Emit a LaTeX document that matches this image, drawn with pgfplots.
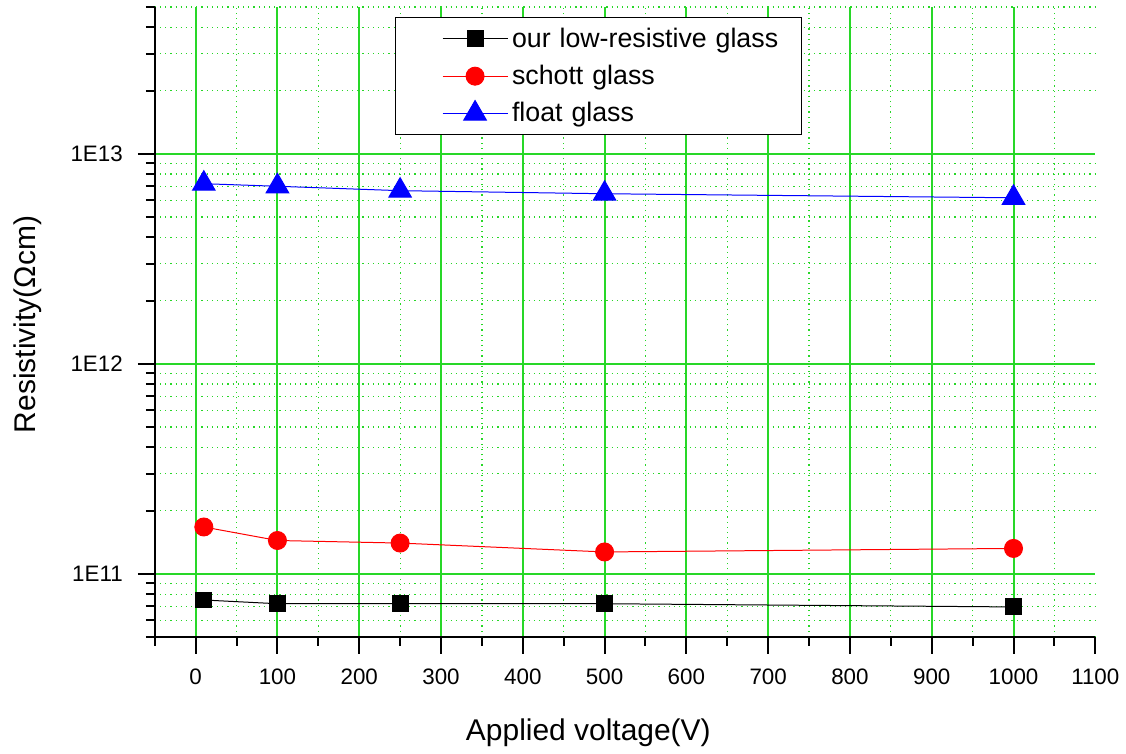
\documentclass[border=0pt]{standalone}
\usepackage{fontspec}
\setmainfont{Liberation Sans}
\usepackage{pgfplots}
\pgfplotsset{compat=1.18}
\definecolor{gridgreen}{RGB}{40,215,40}
\begin{document}
\begin{tikzpicture}
\begin{axis}[
  scale only axis,
  width=471pt, height=315.5pt,
  ymode=log,
  xmin=-50, xmax=1100,
  ymin=5e10, ymax=5e13,
  axis lines*=left,
  axis line style={line width=1pt, black},
  xtick={0,100,...,1000},
  extra x ticks={1100},
  extra x tick style={grid=none},
  minor xtick={-50,50,150,...,1050},
  ytick={1e11,1e12,1e13},
  yticklabels={1E11,1E12,1E13},
  minor ytick={5e10,6e10,7e10,8e10,9e10,2e11,3e11,4e11,5e11,6e11,7e11,8e11,9e11,2e12,3e12,4e12,5e12,6e12,7e12,8e12,9e12,2e13,3e13,4e13,5e13},
  tick align=outside,
  major tick length=8.5pt,
  minor tick length=4.5pt,
  tick style={black, line width=1pt},
  grid=both,
  major grid style={gridgreen, line width=1pt},
  minor grid style={gridgreen, line width=0.6pt, dotted},
  /pgf/number format/assume math mode=true,
  /pgf/number format/1000 sep={},
  ticklabel style={font=\fontsize{11.2pt}{13pt}\selectfont},
  xticklabel style={yshift=-4pt},
  yticklabel style={xshift=-4pt},
  xlabel={Applied voltage(V)},
  ylabel={Resistivity(Ωcm)},
  label style={font=\fontsize{15pt}{18pt}\selectfont},
  xlabel style={at={(axis description cs:0.461,0)}, anchor=center, yshift=-48pt},
  ylabel style={at={(axis description cs:0,0.496)}, anchor=center, yshift=63.5pt},
  legend style={at={(0.255,0.984)}, anchor=north west, draw=black, line width=0.6pt,
    font=\fontsize{13.4pt}{16pt}\selectfont, row sep=3.5pt, inner xsep=3pt, inner ysep=3pt,
    nodes={text width=140pt, align=left}},
  legend cell align=left,
  legend image code/.code={\path (0pt,0pt); \draw[mark repeat=2,mark phase=2,#1] plot coordinates {(20.5pt,0pt) (36.75pt,0pt) (53pt,0pt)};},
]
\addplot[black, line width=0.5pt, mark=square*, mark size=4pt, mark options={solid, fill=black}]
  coordinates {(10,7.5e10) (100,7.2e10) (250,7.2e10) (500,7.2e10) (1000,6.95e10)};
\addlegendentry{our low-resistive glass}
\addplot[red, line width=0.5pt, mark=*, mark size=4.5pt, mark options={solid, fill=red}]
  coordinates {(10,1.67e11) (100,1.44e11) (250,1.40e11) (500,1.27e11) (1000,1.32e11)};
\addlegendentry{schott glass}
\addplot[blue, line width=0.5pt, mark=triangle*, mark size=6.5pt, mark options={solid, fill=blue}]
  coordinates {(10,7.2e12) (100,7.0e12) (250,6.67e12) (500,6.45e12) (1000,6.17e12)};
\addlegendentry{float glass}
\coordinate (sw) at (rel axis cs:0,0);
\coordinate (ne) at (rel axis cs:1,1);
\end{axis}
\path ([shift={(-77.5pt,-57.5pt)}]sw) ([shift={(14.5pt,3.5pt)}]ne);
\end{tikzpicture}
\end{document}
